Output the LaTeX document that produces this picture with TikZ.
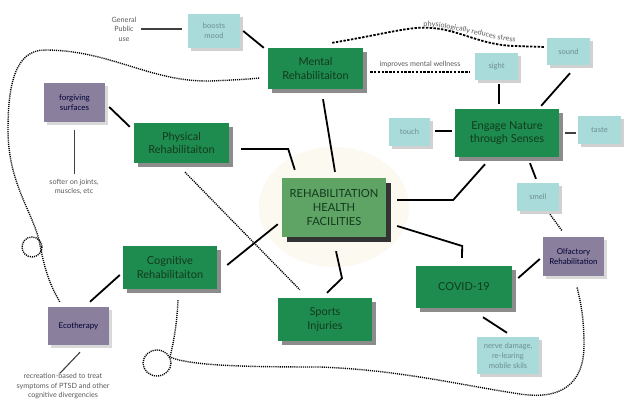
\documentclass[tikz,border=0pt]{standalone}
\usepackage{fontspec}
\setmainfont{Lato}
\usetikzlibrary{shadows,decorations.text,calc}
\definecolor{grn}{HTML}{1E8C4E}
\definecolor{cgrn}{HTML}{5FA464}
\definecolor{cyn}{HTML}{A8DBDA}
\definecolor{prp}{HTML}{8A809E}
\definecolor{ellc}{HTML}{FBF9F0}
\definecolor{gtext}{HTML}{123A1E}
\definecolor{smalltext}{HTML}{5A5A5A}
\definecolor{ctext}{HTML}{6E8E8E}
\begin{document}
\begin{tikzpicture}[x=1pt,y=-1pt,
  gbox/.style={fill=grn, text=gtext, font=\fontsize{11}{13.5}\selectfont, align=center, inner sep=0pt,
    general shadow={fill=black!45, shadow xshift=4pt, shadow yshift=-4pt}},
  cbox/.style={fill=cgrn, text=gtext, font=\fontsize{11.2}{14}\selectfont, align=center, inner sep=0pt,
    general shadow={fill=black!80, shadow xshift=5pt, shadow yshift=-5pt}},
  lbox/.style={fill=cyn, text=ctext, font=\fontsize{7.6}{9.8}\selectfont, align=center, inner sep=0pt,
    general shadow={fill=black!18, shadow xshift=3pt, shadow yshift=-3pt}},
  pbox/.style={fill=prp, text=black!80!blue, font=\fontsize{8}{10}\selectfont, align=center, inner sep=0pt,
    general shadow={fill=black!15, shadow xshift=3pt, shadow yshift=-3pt}},
  note/.style={text=smalltext, font=\fontsize{7.2}{9.6}\selectfont, align=center, inner sep=0pt},
  conn/.style={line width=1.8pt, black},
  thinconn/.style={line width=1.1pt, black!75},
  dotline/.style={line width=1.4pt, dash pattern=on 1.1pt off 1.0pt},
  dashline/.style={line width=1.8pt, dash pattern=on 2.4pt off 1.4pt},
]
\useasboundingbox (0,0) rectangle (630,405);
\fill[white] (0,0) rectangle (630,405);
\fill[ellc] (334,207) ellipse [x radius=75, y radius=60];

% nodes
\node[gbox, minimum width=95pt, minimum height=41pt] (mental) at (315.5,68.5) {Mental\\Rehabilitaiton};
\node[lbox, minimum width=52pt, minimum height=34pt] (boosts) at (214,31) {boosts\\mood};
\node[note] (gp) at (124,29) {General\\Public\\use};
\node[pbox, minimum width=61pt, minimum height=39pt] (forg) at (74.5,102.5) {forgiving\\surfaces};
\node[note] (softer) at (74,187) {softer on joints,\\muscles, etc};
\node[gbox, minimum width=95pt, minimum height=40pt] (phys) at (181.5,143) {Physical\\Rehabilitaiton};
\node[cbox, minimum width=104pt, minimum height=59pt] (center) at (334,207.5) {REHABILITATION\\HEALTH\\FACILITIES};
\node[gbox, minimum width=94pt, minimum height=43pt] (sports) at (325,319.5) {Sports\\Injuries};
\node[gbox, minimum width=104pt, minimum height=48pt] (engage) at (507,133) {Engage Nature\\through Senses};
\node[lbox, minimum width=41pt, minimum height=28pt] (touch) at (409.5,132) {touch};
\node[lbox, minimum width=43pt, minimum height=28pt] (taste) at (599.5,130) {taste};
\node[lbox, minimum width=43pt, minimum height=27pt] (sight) at (496.5,66.5) {sight};
\node[lbox, minimum width=43pt, minimum height=27pt] (sound) at (568.5,51.5) {sound};
\node[lbox, minimum width=42pt, minimum height=28pt] (smell) at (538,197) {smell};
\node[pbox, minimum width=61pt, minimum height=39pt] (olf) at (573.5,256.5) {Olfactory\\Rehabilitation};
\node[gbox, minimum width=96pt, minimum height=42pt] (covid) at (464,287) {COVID-19};
\node[lbox, minimum width=62pt, minimum height=37pt] (nerve) at (508,355.5) {nerve damage,\\re-learing\\mobile skils};
\node[gbox, minimum width=94pt, minimum height=43pt] (cog) at (170,267.5) {Cognitive\\Rehabilitaiton};
\node[pbox, minimum width=61pt, minimum height=38pt] (eco) at (78.5,326) {Ecotherapy};
\node[note] (recr) at (63,386) {recreation-based to treat\\symptoms of PTSD and other\\cognitive divergencies};
\node[note] (impr) at (420,64) {improves mental wellness};

% connectors
\draw[thinconn] ([shift={(-47,-2)}]boosts.west) -- ([shift={(-6,-2)}]boosts.west);
\draw[conn] ([shift={(3,0)}]boosts.east) -- ([shift={(-4,0)}]mental.north west);
\draw[conn] ([shift={(7.5,10)}]mental.south) -- ([shift={(1,-6)}]center.north);
\draw[dashline] ([shift={(7,3.5)}]mental.east) -- ([shift={(-5,5.5)}]sight.west);
\draw[dashline] ([shift={(-31,-5)}]mental.north east) .. controls (390,33) and (410,26) .. (432,28)
   .. controls (460,30) and (480,45) .. (515,46) -- ([shift={(-2,-4.5)}]sound.west);
\path[decorate, decoration={text along path, raise=2.8pt, text align=center,
   text={|\fontsize{7.2}{9}\selectfont\color{smalltext}|physiologically reduces stress}}]
   (410,30) .. controls (440,25) and (475,40) .. (528,47);
\draw[conn] ([shift={(12,6)}]phys.east) -- ++(47,0) -- ([shift={(13,-8)}]center.north west);
\draw[conn] ([shift={(4,4.5)}]forg.east) -- ([shift={(-4,4)}]phys.north west);
\draw[thinconn] ([shift={(0,8)}]forg.south) -- ([shift={(0,52)}]forg.south);
\draw[dotline] ([shift={(3.5,9)}]phys.south) -- ([shift={(22,-8)}]sports.north west);
\draw[conn] ([shift={(10,-2.5)}]cog.east) -- ([shift={(-4,-13)}]center.south west);
\draw[conn] ([shift={(2,14)}]center.south) -- ++(6,27) -- ([shift={(2,-5)}]sports.north);
\draw[conn] ([shift={(11,18.5)}]center.east) -- ++(65,20) -- ([shift={(-2,-8)}]covid.north);
\draw[conn] ([shift={(11,-7.5)}]center.east) -- ++(56,0) -- ([shift={(-22,7)}]engage.south);
\draw[conn] ([shift={(5,-1)}]touch.east) -- ([shift={(-3,-2)}]engage.west);
\draw[thinconn] ([shift={(6,0)}]engage.east) -- ([shift={(-2,3)}]taste.west);
\draw[conn] ([shift={(2.5,4)}]sight.south) -- ([shift={(-8,-5)}]engage.north);
\draw[conn] ([shift={(1.5,8)}]sound.south) -- ([shift={(-18,-3)}]engage.north east);
\draw[conn] ([shift={(23,6)}]engage.south) -- ([shift={(-2,-4)}]smell.north);
\draw[dotline] ([shift={(12,3)}]smell.south) -- ([shift={(-11.5,-6)}]olf.north);
\draw[conn] ([shift={(6,-9)}]covid.east) -- ([shift={(-3,2.5)}]olf.west);
\draw[conn] ([shift={(19,9)}]covid.south) -- ([shift={(-1,-4)}]nerve.north);
\draw[conn] ([shift={(-3,7.5)}]cog.west) -- ([shift={(11.5,-5)}]eco.north);
\draw[thinconn] ([shift={(1.5,7)}]eco.south) -- ([shift={(-18.5,28)}]eco.south);

% big dotted curves
\draw[dotline] ([shift={(12,-5)}]eco.north west) .. controls (48,282) and (44,265) .. (40,245)
   .. controls (35,215) and (8,185) .. (8,130) .. controls (8,85) and (15,50) .. (45,50)
   .. controls (110,50) and (150,82) .. (210,81) .. controls (235,80) and (250,79) .. ([shift={(-8,9.5)}]mental.west);
\draw[dotline] (32,247) circle [radius=10];
\draw[dotline] ([shift={(8,11)}]cog.south) .. controls (177,325) and (173,345) .. (170,357)
   .. controls (190,366) and (250,367) .. (320,367) .. controls (400,370) and (460,385) .. (520,394)
   .. controls (560,400) and (584,385) .. (584,345) .. controls (584,315) and (580,300) .. ([shift={(3.5,11)}]olf.south);
\draw[dotline] (157,363) circle [x radius=14, y radius=13];
\end{tikzpicture}
\end{document}
